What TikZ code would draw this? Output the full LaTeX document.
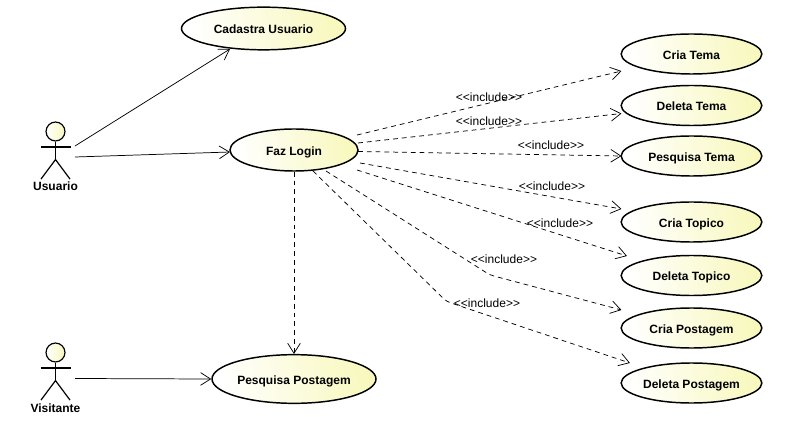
\documentclass[tikz,border=0pt]{standalone}
\usepackage{fontspec}
\setmainfont{Liberation Sans}
\usepackage{xcolor}
\usetikzlibrary{shapes.geometric,arrows.meta,positioning}
\definecolor{usecasefill}{HTML}{F8F8BE}
\tikzset{
  usecase/.style={ellipse,draw=black,line width=1.1pt,inner sep=0pt,
    left color=white,right color=usecasefill,shading angle=100,
    text height=8pt,text depth=0pt,
    font=\fontsize{9}{11}\selectfont\bfseries},
  actorhead/.style={circle,draw=black,line width=0.9pt,inner sep=0pt,minimum size=14.2pt,
    left color=white,right color=usecasefill},
  actorline/.style={draw=black,line width=0.9pt},
  actorname/.style={font=\fontsize{9}{11}\selectfont\bfseries},
  assoc/.style={draw=black,line width=0.55pt,-{Straight Barb[length=7.5pt,width=9.5pt]}},
  incl/.style={assoc,dashed,dash pattern=on 3.6pt off 3pt},
  incltext/.style={font=\fontsize{9}{11}\selectfont}
}
\begin{document}
\begin{tikzpicture}[x=0.75pt,y=-0.75pt]
\useasboundingbox (0,0) rectangle (791,441);

% Use cases on the left
\node[usecase,minimum width=123pt,minimum height=32pt] (cadastra) at (263.5,28.5) {Cadastra Usuario};
\node[usecase,minimum width=96pt,minimum height=31.5pt] (fazlogin) at (294,150) {Faz Login};
\node[usecase,minimum width=123pt,minimum height=36.5pt] (pesqpost) at (294,379) {Pesquisa Postagem};

% Use cases on the right
\foreach \name/\y/\txt in {criatema/54/Cria Tema, deletatema/105.5/Deleta Tema,
    pesqtema/156/Pesquisa Tema, criatopico/222/Cria Topico, deletatopico/275.5/Deleta Topico,
    criapost/328/Cria Postagem, deletapost/383/Deleta Postagem}
  \node[usecase,minimum width=105.5pt,minimum height=30pt] (\name) at (691.5,\y) {\txt};

% Actors
\foreach \name/\y/\txt/\ty in {usuario/131.5/Usuario/186.5, visitante/352.5/Visitante/408}{
  \node[actorhead] (\name) at (55.5,\y) {};
  \draw[actorline] (\name.south) -- ++(0,18) coordinate (\name hip);
  \draw[actorline] ([shift={(-15,15.5)}]\name.center) -- ++(30,0);
  \draw[actorline] ([shift={(-14.5,19.5)}]\name hip) -- (\name hip) -- ([shift={(14.5,19.5)}]\name hip);
  \node[actorname] (\name label) at (55.5,\ty) {\txt};
}

% Associations
\draw[assoc] ([shift={(19.5,14.5)}]usuario.center) -- ([shift={(-33.5,20.5)}]cadastra.center);
\draw[assoc] ([shift={(19.5,25.5)}]usuario.center) -- ([shift={(-64,2)}]fazlogin.center);
\draw[assoc] ([shift={(19.5,26)}]visitante.center) -- (pesqpost.west);

% Straight include lines
\foreach \tgt/\sx/\sy/\ex/\ey in {criatema/63/-15/1/17, deletatema/64/-7/1/8,
    pesqtema/64/1.5/1/0, criatopico/66/13/1/-13, deletatopico/63/20/6.5/-19.5}
  \draw[incl] ([shift={(\sx,\sy)}]fazlogin.center) -- ([shift={(\ex,\ey)}]\tgt.west);

% Bent include lines
\coordinate (bendcria) at (490,275);
\coordinate (benddeleta) at (446.5,301.5);
\draw[incl,rounded corners=3pt] ([shift={(32,21)}]fazlogin.center) -- (bendcria) -- ([shift={(1,-18)}]criapost.west);
\draw[incl,rounded corners=3pt] ([shift={(19,21)}]fazlogin.center) -- (benddeleta) -- ([shift={(9.5,-20)}]deletapost.west);
\draw[incl] (fazlogin.south) -- (pesqpost.north);

% Include labels
\foreach \name/\x/\y in {lblcriatema/489/97, lbldeletatema/489/121.5, lblpesqtema/551/145,
    lblcriatopico/552/186.5, lbldeletatopico/560/223.5, lblcriapost/504/259, lbldeletapost/487/303}
  \node[incltext] (\name) at (\x,\y) {<{}<include>{}>};
\end{tikzpicture}
\end{document}
